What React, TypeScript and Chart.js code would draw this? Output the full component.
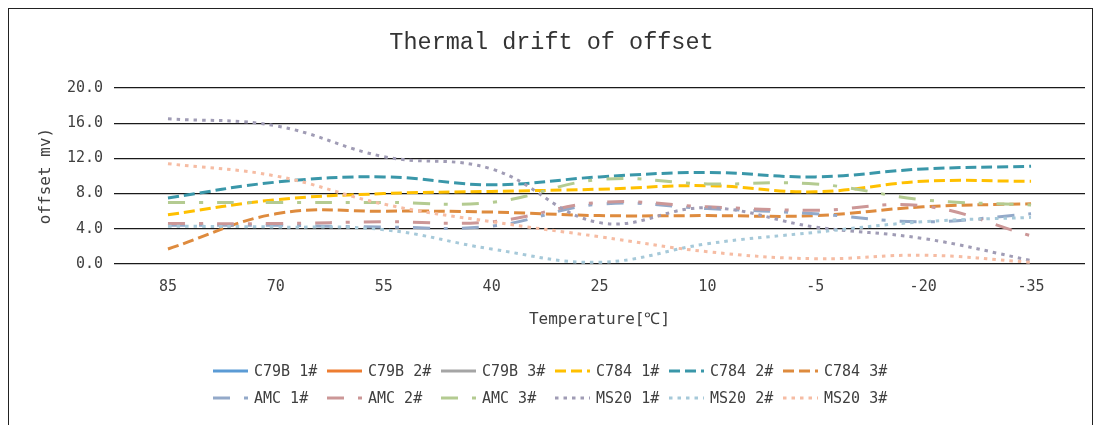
import React, { useEffect, useRef } from "react";
import { Chart, registerables } from "chart.js";

Chart.register(...registerables);

// ---- data ----
const categories = ["85", "70", "55", "40", "25", "10", "-5", "-20", "-35"];
const yTicks = [0, 4, 8, 12, 16, 20];

const seriesNames = [
  "C79B 1#", "C79B 2#", "C79B 3#",
  "C784 1#", "C784 2#", "C784 3#",
  "AMC 1#", "AMC 2#", "AMC 3#",
  "MS20 1#", "MS20 2#", "MS20 3#",
];

const c79b1: (number | null)[] = [null, null, null, null, null, null, null, null, null];
const c79b2: (number | null)[] = [null, null, null, null, null, null, null, null, null];
const c79b3: (number | null)[] = [null, null, null, null, null, null, null, null, null];
const c784_1 = [5.6, 7.3, 8.0, 8.25, 8.5, 8.9, 8.2, 9.4, 9.4];
const c784_2 = [7.5, 9.3, 9.9, 9.0, 9.9, 10.4, 9.9, 10.8, 11.1];
const c784_3 = [1.7, 5.7, 6.0, 5.9, 5.5, 5.5, 5.5, 6.5, 6.85];
const amc1 = [4.4, 4.4, 4.2, 4.3, 6.8, 6.3, 5.7, 4.8, 5.7];
const amc2 = [4.6, 4.6, 4.8, 4.8, 7.0, 6.5, 6.1, 6.6, 3.2];
const amc3 = [7.0, 7.0, 7.0, 7.0, 9.6, 9.1, 9.1, 7.3, 6.7];
const ms20_1 = [16.5, 15.7, 12.2, 10.8, 4.7, 6.4, 4.2, 2.9, 0.4];
const ms20_2 = [4.3, 4.2, 3.9, 1.7, 0.2, 2.3, 3.6, 4.8, 5.3];
const ms20_3 = [11.4, 10.0, 6.8, 4.8, 3.1, 1.4, 0.6, 1.0, 0.2];

const seriesValues = [c79b1, c79b2, c79b3, c784_1, c784_2, c784_3, amc1, amc2, amc3, ms20_1, ms20_2, ms20_3];

// ---- styles ----
const seriesColors = [
  "#5B9BD5", "#ED7D31", "#A5A5A5",
  "#FFC000", "#3A97A9", "#DE8B3E",
  "#93A9C9", "#CC9797", "#B4CB91",
  "#A09CB5", "#A6C9D9", "#F6BCA3",
];
const SOLID: number[] = [];
const DASH = [11, 5];
const DASHDOT = [17, 14, 4, 14];
const DOT = [3.5, 5];
const seriesDash = [SOLID, SOLID, SOLID, DASH, DASH, DASH, DASHDOT, DASHDOT, DASHDOT, DOT, DOT, DOT];

const MONO = "'DejaVu Sans Mono', monospace";
const TEXT = "#404040";

function Legend() {
  const rows = [seriesNames.slice(0, 6), seriesNames.slice(6, 12)];
  return (
    <div
      style={{
        position: "absolute",
        left: 213,
        top: 362,
        width: 6 * 114,
        fontFamily: MONO,
        fontSize: 15,
        color: TEXT,
        lineHeight: "18px",
      }}
    >
      {rows.map((row, r) => (
        <div key={r} style={{ display: "flex", height: 18, marginBottom: r === 0 ? 9 : 0 }}>
          {row.map((name, k) => {
            const i = r * 6 + k;
            return (
              <div key={name} style={{ width: 114, display: "flex", alignItems: "center", whiteSpace: "pre" }}>
                <svg width={35} height={10} style={{ display: "block" }}>
                  <line
                    x1={0}
                    y1={5}
                    x2={35}
                    y2={5}
                    stroke={seriesColors[i]}
                    strokeWidth={3}
                    strokeDasharray={seriesDash[i].length ? seriesDash[i].join(" ") : undefined}
                  />
                </svg>
                <span style={{ marginLeft: 6 }}>{name}</span>
              </div>
            );
          })}
        </div>
      ))}
    </div>
  );
}

export default function App() {
  const ref = useRef<HTMLCanvasElement | null>(null);

  useEffect(() => {
    if (!ref.current) return;
    const chart = new Chart(ref.current, {
      type: "line",
      data: {
        labels: categories,
        datasets: seriesNames.map((name, i) => ({
          label: name,
          data: seriesValues[i],
          borderColor: seriesColors[i],
          backgroundColor: seriesColors[i],
          borderWidth: 3,
          borderDash: seriesDash[i],
          borderCapStyle: "butt" as const,
          pointRadius: 0,
          tension: 0.4,
          fill: false,
          order: 11 - i,
        })),
      },
      options: {
        responsive: false,
        animation: false,
        layout: { padding: { left: 18, right: 15, top: 0, bottom: 95.8 } },
        plugins: {
          legend: { display: false },
          tooltip: { enabled: false },
          title: {
            display: true,
            text: "Thermal drift of offset",
            color: "#333",
            font: { family: "'Liberation Mono', monospace", size: 23.5, weight: "normal" },
            padding: { top: 29, bottom: 30.8 },
          },
        },
        scales: {
          x: {
            type: "category",
            offset: true,
            grid: { display: false, drawTicks: false },
            border: { display: false },
            ticks: { color: TEXT, font: { family: MONO, size: 15 }, padding: 14, maxRotation: 0 },
            title: {
              display: true,
              text: "Temperature[℃]",
              color: TEXT,
              font: { family: MONO, size: 16 },
              padding: { top: 0, bottom: 0 },
            },
          },
          y: {
            min: 0,
            max: 20,
            afterBuildTicks: (axis: any) => {
              axis.ticks = yTicks.map((v) => ({ value: v }));
            },
            grid: { color: "#1a1a1a", lineWidth: 1.3, drawTicks: false },
            border: { display: false },
            ticks: {
              color: TEXT,
              font: { family: MONO, size: 15 },
              padding: 11,
              callback: (v: any) => Number(v).toFixed(1),
            },
            title: {
              display: true,
              text: "offset mv)",
              color: TEXT,
              font: { family: MONO, size: 16 },
              padding: { top: 18.7, bottom: 0 },
            },
          },
        },
      },
    });
    return () => chart.destroy();
  }, []);

  return (
    <div style={{ position: "fixed", left: 0, top: 0, width: 1100, height: 425, background: "#fff", overflow: "hidden" }}>
      <canvas ref={ref} width={1100} height={425} style={{ position: "absolute", left: 0, top: 0 }} />
      <div
        style={{
          position: "absolute",
          left: 8,
          top: 8,
          width: 1083,
          height: 440,
          border: "1px solid #222",
          pointerEvents: "none",
        }}
      />
      <Legend />
    </div>
  );
}
